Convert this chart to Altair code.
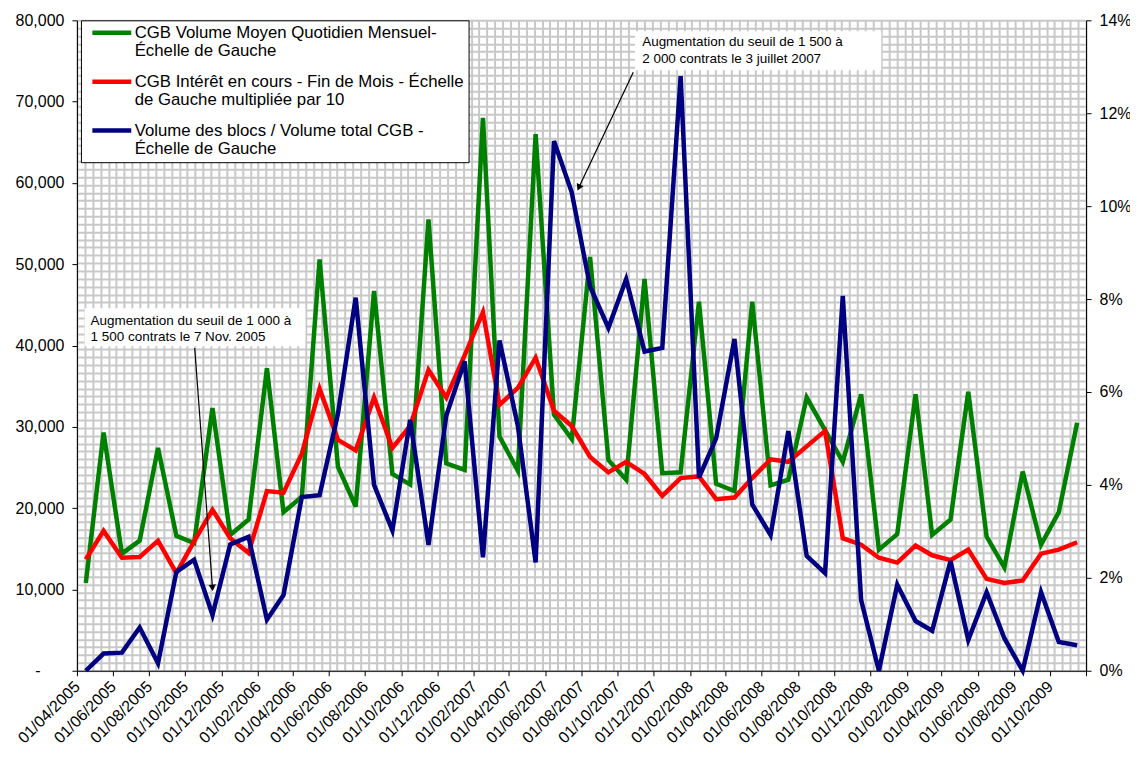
import altair as alt
import pandas as pd

# ---------------- data ----------------
START = "2005-04-01"
END = "2009-12-01"
N_MONTHS = 56

SERIES_NAMES = [
    "CGB Volume Moyen Quotidien Mensuel-|Échelle de Gauche",
    "CGB Intérêt en cours - Fin de Mois - Échelle|de Gauche multipliée par 10",
    "Volume des blocs / Volume total CGB -|Échelle de Gauche",
]
SERIES_COLORS = ["#008000", "#FF0000", "#000080"]

# monthly average daily volume (thousands of contracts), Apr 2005 .. Nov 2009
GREEN_K = [10.8, 29.3, 14.4, 16.0, 27.4, 16.6, 15.7, 32.3, 16.7, 18.6,
           37.2, 19.5, 21.4, 50.6, 25.1, 20.2, 46.7, 24.2, 22.9, 55.5,
           25.5, 24.7, 68.0, 28.8, 24.6, 66.0, 31.5, 28.5, 50.9, 25.9,
           23.5, 48.2, 24.3, 24.4, 45.4, 23.0, 22.1, 45.4, 22.8, 23.5,
           33.6, 29.6, 25.7, 34.0, 14.9, 16.8, 34.0, 16.7, 18.6, 34.3,
           16.5, 12.7, 24.5, 15.5, 19.5, 30.5]

# open interest at month end / 10 (thousands)
RED_K = [13.7, 17.2, 13.9, 14.0, 16.0, 12.0, 15.9, 19.8, 16.3, 14.5,
         22.1, 21.9, 26.7, 34.7, 28.4, 27.1, 33.6, 27.4, 30.1, 37.0,
         33.6, 38.8, 44.1, 32.7, 34.8, 38.5, 32.0, 30.1, 26.3, 24.4,
         25.7, 24.2, 21.5, 23.7, 23.9, 21.1, 21.3, 23.7, 26.0, 25.7,
         27.6, 29.5, 16.3, 15.5, 13.9, 13.3, 15.4, 14.2, 13.6, 14.9,
         11.3, 10.8, 11.1, 14.4, 14.9, 15.8]

# block volume / total volume (%)
BLUE_PCT = [0.0, 0.37, 0.39, 0.93, 0.16, 2.13, 2.39, 1.20, 2.72, 2.88,
            1.10, 1.63, 3.74, 3.78, 5.53, 8.03, 4.00, 3.02, 5.40, 2.71,
            5.49, 6.66, 2.44, 7.11, 5.27, 2.33, 11.40, 10.30, 8.27, 7.38,
            8.43, 6.87, 6.95, 12.80, 4.16, 5.00, 7.14, 3.58, 2.92, 5.16,
            2.47, 2.10, 8.07, 1.52, 0.0, 1.85, 1.07, 0.86, 2.36, 0.66,
            1.69, 0.70, 0.0, 1.69, 0.62, 0.55]

LEFT_TICKS = [0, 10000, 20000, 30000, 40000, 50000, 60000, 70000, 80000]
RIGHT_TICKS = [0.0, 0.02, 0.04, 0.06, 0.08, 0.10, 0.12, 0.14]

ANN_TEXT = [
    "Augmentation du seuil de 1 000 à\n1 500 contrats le 7 Nov. 2005",
    "Augmentation du seuil de 1 500 à\n2 000 contrats le 3 juillet 2007",
]
ANN_BOX_X0 = ["2005-04-14", "2007-10-31"]
ANN_BOX_X1 = ["2006-04-22", "2008-12-20"]
ANN_BOX_Y0 = [39900, 73850]
ANN_BOX_Y1 = [44600, 78650]
ANN_TEXT_X = ["2005-04-24", "2007-11-12"]
ANN_TEXT_Y = [43900, 78150]
ARROW_X0 = ["2005-10-17", "2007-10-28"]
ARROW_Y0 = [39690, 73610]
ARROW_X1 = ["2005-11-16", "2007-07-28"]
ARROW_Y1 = [10200, 59430]
ARROW_ANGLE = [175.8, 205.2]

# ---------------- helpers ----------------
def ms(d):
    return int(pd.Timestamp(d).tz_localize("UTC").timestamp() * 1000)

MONTHS = pd.date_range(START, periods=N_MONTHS, freq="MS")
POINT_DATES = [(d + pd.Timedelta(days=15)).strftime("%Y-%m-%d") for d in MONTHS]
TICK_MS = [ms(d) for d in pd.date_range(START, END, freq="2MS")]

FONT = "Liberation Sans"

df_green = pd.DataFrame({"date": POINT_DATES, "value": [v * 1000 for v in GREEN_K],
                         "series": SERIES_NAMES[0]})
df_red = pd.DataFrame({"date": POINT_DATES, "value": [v * 1000 for v in RED_K],
                       "series": SERIES_NAMES[1]})
df_blue = pd.DataFrame({"date": POINT_DATES, "value": [v / 100 for v in BLUE_PCT],
                        "series": SERIES_NAMES[2]})
df_ann = pd.DataFrame({
    "text": ANN_TEXT, "bx0": ANN_BOX_X0, "bx1": ANN_BOX_X1,
    "by0": ANN_BOX_Y0, "by1": ANN_BOX_Y1, "tx": ANN_TEXT_X, "ty": ANN_TEXT_Y,
    "ax0": ARROW_X0, "ay0": ARROW_Y0, "ax1": ARROW_X1, "ay1": ARROW_Y1,
    "angle": ARROW_ANGLE,
})

x_scale = alt.Scale(type="utc", domain=[ms(START), ms(END)], nice=False)
yl_scale = alt.Scale(domain=[0, 80000], nice=False, zero=True)
yr_scale = alt.Scale(domain=[0, 0.14], nice=False, zero=True)

x_axis = alt.Axis(
    values=TICK_MS, orient="bottom", title=None, grid=False,
    labelExpr=f"datum.value >= {ms(END)} ? '' : utcFormat(datum.value, '%d/%m/%Y')",
    labelAngle=-45, labelAlign="right", labelBaseline="middle",
    labelFont=FONT, labelFontSize=16, labelColor="black", labelPadding=8,
    labelOverlap=False, labelBound=False, labelFlush=False,
    tickSize=5, tickColor="black", domainColor="black", domainWidth=1,
)
yl_axis = alt.Axis(
    values=LEFT_TICKS, orient="left", title=None, grid=False,
    labelExpr="datum.value == 0 ? '' : format(datum.value, ',')",
    labelFont=FONT, labelFontSize=16, labelColor="black", labelPadding=8,
    tickSize=5, tickColor="black", domainColor="black", domainWidth=1,
)
# accounting-style dash for zero, set further left as in the original
yl_zero_axis = alt.Axis(
    values=[0], orient="left", title=None, grid=False, labelExpr="'-'",
    labelFont=FONT, labelFontSize=16, labelColor="black", labelPadding=37,
    ticks=False, domain=False,
)
yr_axis = alt.Axis(
    values=RIGHT_TICKS, orient="right", title=None, grid=False, format=".0%",
    labelFont=FONT, labelFontSize=16, labelColor="black", labelPadding=8,
    tickSize=5, tickColor="black", domainColor="black", domainWidth=1,
)

legend = alt.Legend(
    orient="none", legendX=4, legendY=0, title=None, direction="vertical",
    fillColor="white", strokeColor="black", padding=4,
    symbolType="M-5.2,0H5.2", symbolSize=56, symbolStrokeWidth=4.5,
    symbolOffset=18.5, labelOffset=14.5,
    labelFont=FONT, labelFontSize=16.8, labelColor="black", labelLimit=1000,
    rowPadding=12, labelBaseline="middle",
    labelExpr="split(datum.label, '|')",
)
color = alt.Color("series:N", scale=alt.Scale(domain=SERIES_NAMES, range=SERIES_COLORS),
                  legend=legend)

# ---------------- background pattern grid ----------------
NX, NY = 128, 83
grid = alt.Chart(pd.DataFrame({"gx": [0], "gy": [0]})).mark_point(opacity=0, size=0).encode(
    x=alt.X("gx:Q", scale=alt.Scale(domain=[0, NX], nice=False, zero=False),
            axis=alt.Axis(values=list(range(NX + 1)), orient="top", grid=True,
                          gridColor="#c8c8c8", gridWidth=2, labels=False, ticks=False,
                          domain=False, title=None)),
    y=alt.Y("gy:Q", scale=alt.Scale(domain=[0, NY], nice=False, zero=False),
            axis=alt.Axis(values=list(range(NY + 1)), orient="left", grid=True,
                          gridColor="#c8c8c8", gridWidth=2, labels=False, ticks=False,
                          domain=False, title=None)),
)

LW = 4.5
green = alt.Chart(df_green).mark_line(strokeWidth=LW).encode(
    x=alt.X("date:T", scale=x_scale, axis=x_axis),
    y=alt.Y("value:Q", scale=yl_scale, axis=yl_axis),
    color=color,
)
red = alt.Chart(df_red).mark_line(strokeWidth=LW).encode(
    x=alt.X("date:T", scale=x_scale, axis=None),
    y=alt.Y("value:Q", scale=yl_scale, axis=None),
    color=color,
)
blue = alt.Chart(df_blue).mark_line(strokeWidth=LW).encode(
    x=alt.X("date:T", scale=x_scale, axis=None),
    y=alt.Y("value:Q", scale=yr_scale, axis=yr_axis),
    color=color,
)

ann = alt.Chart(df_ann)
boxes = ann.mark_rect(color="white", opacity=1).encode(
    x=alt.X("bx0:T", scale=x_scale, axis=None), x2="bx1:T",
    y=alt.Y("by0:Q", scale=yl_scale, axis=yl_zero_axis), y2="by1:Q",
)
texts = ann.mark_text(align="left", baseline="top", font=FONT, fontSize=13.5,
                      lineBreak="\n", lineHeight=16.5, color="black").encode(
    x=alt.X("tx:T", scale=x_scale, axis=None),
    y=alt.Y("ty:Q", scale=yl_scale, axis=None),
    text="text:N",
)
arrows = ann.mark_rule(color="black", strokeWidth=1.2).encode(
    x=alt.X("ax0:T", scale=x_scale, axis=None), x2="ax1:T",
    y=alt.Y("ay0:Q", scale=yl_scale, axis=None), y2="ay1:Q",
)
heads = ann.mark_point(shape="triangle-up", filled=True, color="black", size=55, opacity=1).encode(
    x=alt.X("ax1:T", scale=x_scale, axis=None),
    y=alt.Y("ay1:Q", scale=yl_scale, axis=None),
    angle=alt.Angle("angle:Q", scale=None),
)

chart = alt.layer(grid, green, red, blue, boxes, texts, arrows, heads).resolve_scale(
    x="independent", y="independent"
).properties(
    width=1010, height=651,
    autosize=alt.AutoSizeParams(type="none"),
    padding={"left": 69, "top": 12, "right": 44, "bottom": 80},
    background="white",
).configure_view(stroke=None)

chart.save("out.html", embed_options={"renderer": "svg", "actions": False})
